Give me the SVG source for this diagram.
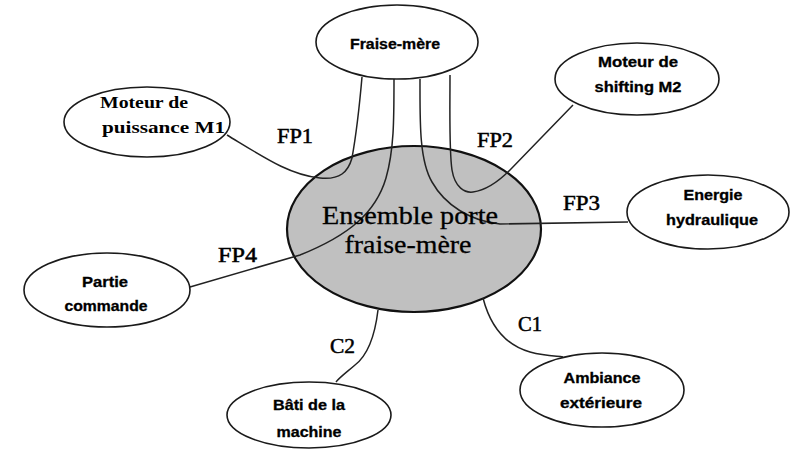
<svg xmlns="http://www.w3.org/2000/svg" width="793" height="451" viewBox="0 0 793 451">
<style>
.n{fill:#fff;stroke:#1a1a1a;stroke-width:1.6}
.c{fill:#c0c0c0;stroke:#111;stroke-width:2.2}
.t{font-family:"Liberation Sans",Arial,sans-serif;font-weight:bold;font-size:14px;fill:#000;text-anchor:middle;stroke:#000;stroke-width:0.3}
.s{font-family:"Liberation Serif","Times New Roman",serif;font-weight:bold;font-size:16px;fill:#000}
.l{font-family:"Liberation Serif","Times New Roman",serif;font-size:20px;fill:#000;stroke:#000;stroke-width:0.5}
.m{font-family:"Liberation Serif","Times New Roman",serif;font-size:25px;fill:#000;text-anchor:middle;stroke:#000;stroke-width:0.3}
.e{fill:none;stroke:#222;stroke-width:1.5}
</style>
<rect width="793" height="451" fill="#fff"/>
<g id="ensemble">
<ellipse class="c" cx="414" cy="229" rx="127" ry="83"/>
</g>
<g id="connectors">
<path class="e" d="M227 135 C265 158 290 175 320 178 C340 180 348 172 352 158 C357 130 360 100 362 77"/>
<path class="e" d="M450 75 C450 110 449 150 452 170 C455 188 465 193 473 192 C488 190 500 180 510 170 L573 105"/>
<path class="e" d="M420 79 C420 120 419 160 432 182 C445 205 470 221 500 224 L628 222"/>
<path class="e" d="M394 79 C394 120 394 150 386 178 C376 212 350 235 300 255 L190 287"/>
<path class="e" d="M483 298 C490 325 505 345 530 352 C545 356 555 356 563 357"/>
<path class="e" d="M378 310 C375 335 368 355 355 365 C347 372 340 377 336 382"/>
<text class="l" x="277" y="143" textLength="36" lengthAdjust="spacingAndGlyphs">FP1</text>
<text class="l" x="477" y="147" textLength="36" lengthAdjust="spacingAndGlyphs">FP2</text>
<text class="l" x="563" y="210" textLength="37" lengthAdjust="spacingAndGlyphs">FP3</text>
<text class="l" x="218" y="262" textLength="39" lengthAdjust="spacingAndGlyphs">FP4</text>
<text class="l" x="518" y="331" textLength="24" lengthAdjust="spacingAndGlyphs">C1</text>
<text class="l" x="330" y="353" textLength="25" lengthAdjust="spacingAndGlyphs">C2</text>
</g>
<g id="ensemble-label">
<text class="m" x="410" y="224" textLength="176" lengthAdjust="spacingAndGlyphs">Ensemble porte</text>
<text class="m" x="408" y="253" textLength="127" lengthAdjust="spacingAndGlyphs">fraise-mère</text>
</g>
<g id="fraise-mere">
<ellipse class="n" cx="397" cy="42" rx="81" ry="37"/>
<text class="t" x="395" y="49" textLength="90" lengthAdjust="spacingAndGlyphs">Fraise-mère</text>
</g>
<g id="moteur-m1">
<ellipse class="n" cx="147" cy="122" rx="83" ry="35"/>
<text class="s" x="100" y="108" textLength="88" lengthAdjust="spacingAndGlyphs">Moteur de</text>
<text class="s" x="102" y="133" textLength="123" lengthAdjust="spacingAndGlyphs">puissance M1</text>
</g>
<g id="moteur-m2">
<ellipse class="n" cx="637" cy="79" rx="82" ry="36"/>
<text class="t" x="638" y="67" textLength="80" lengthAdjust="spacingAndGlyphs">Moteur de</text>
<text class="t" x="638" y="92" textLength="87" lengthAdjust="spacingAndGlyphs">shifting M2</text>
</g>
<g id="energie">
<ellipse class="n" cx="708" cy="212" rx="81" ry="37"/>
<text class="t" x="713" y="200" textLength="59" lengthAdjust="spacingAndGlyphs">Energie</text>
<text class="t" x="712" y="225" textLength="92" lengthAdjust="spacingAndGlyphs">hydraulique</text>
</g>
<g id="partie-commande">
<ellipse class="n" cx="107" cy="290" rx="83" ry="37"/>
<text class="t" x="105" y="287" textLength="46" lengthAdjust="spacingAndGlyphs">Partie</text>
<text class="t" x="106" y="311" textLength="83" lengthAdjust="spacingAndGlyphs">commande</text>
</g>
<g id="bati">
<ellipse class="n" cx="309" cy="415" rx="82" ry="33"/>
<text class="t" x="309" y="410" textLength="72" lengthAdjust="spacingAndGlyphs">Bâti de la</text>
<text class="t" x="309" y="437" textLength="65" lengthAdjust="spacingAndGlyphs">machine</text>
</g>
<g id="ambiance">
<ellipse class="n" cx="602" cy="390" rx="82" ry="37"/>
<text class="t" x="602" y="383" textLength="77" lengthAdjust="spacingAndGlyphs">Ambiance</text>
<text class="t" x="601" y="408" textLength="82" lengthAdjust="spacingAndGlyphs">extérieure</text>
</g>
</svg>
